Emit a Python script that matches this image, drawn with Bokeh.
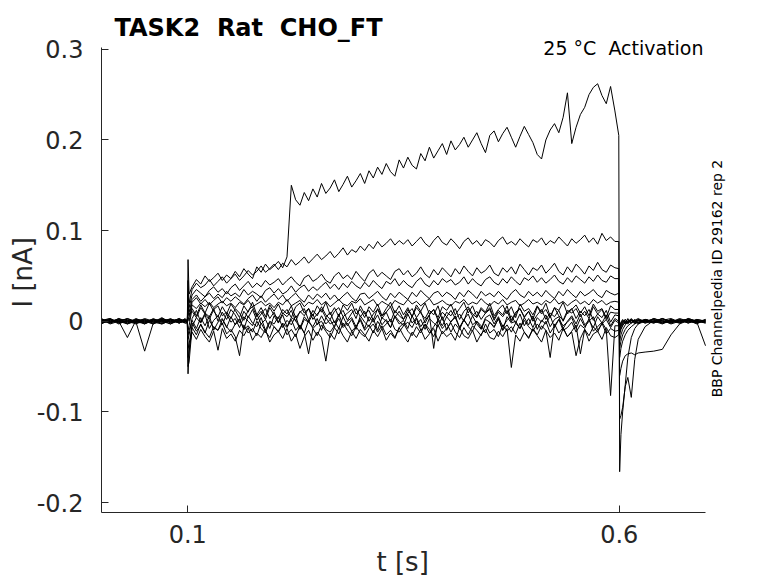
import math
from bokeh.plotting import figure
from bokeh.models import Label, FixedTicker, Range1d, Title
from bokeh.embed import file_html
from bokeh.resources import INLINE

# sample times in ms
t_ms = [0, 10, 20, 30, 40, 50, 60, 70, 80, 90, 97,
        99.5, 100.3, 101.5,
        105, 110, 115, 120, 125, 130, 135, 140, 145, 150,
        155, 160, 165, 170, 175, 180, 185, 190, 195, 200,
        205, 210, 215, 220, 225, 230, 235, 240, 245, 250,
        255, 260, 265, 270, 275, 280, 285, 290, 295, 300,
        305, 310, 315, 320, 325, 330, 335, 340, 345, 350,
        355, 360, 365, 370, 375, 380, 385, 390, 395, 400,
        405, 410, 415, 420, 425, 430, 435, 440, 445, 450,
        455, 460, 465, 470, 475, 480, 485, 490, 495, 500,
        505, 510, 515, 520, 525, 530, 535, 540, 545, 550,
        555, 560, 565, 570, 575, 580, 585, 590, 595,
        599.5, 600.5, 602, 604, 607, 610, 614, 618, 622, 630, 640, 650, 660, 670, 680, 690, 700]

# currents in pA, one list per voltage step
trace_01 = [1, -2, 3, 0, -3, 2, -1, 4, -2, 1, 0,
            1, 68, 30,
            38, 46, 41, 50, 44, 48, 53, 45, 51, 47,
            55, 49, 58, 52, 47, 60, 54, 63, 57, 61,
            66, 59, 71, 150, 134, 128, 142, 133, 146, 137,
            152, 141, 147, 156, 143, 151, 160, 148, 155, 163,
            152, 166, 158, 170, 162, 174, 165, 160, 178, 169,
            181, 172, 168, 185, 177, 192, 180, 188, 196, 184,
            199, 189, 195, 203, 192, 200, 208, 196, 186, 205,
            210, 198, 207, 214, 203, 192, 204, 215, 206, 197,
            184, 179, 200, 211, 218, 208, 225, 252, 196, 214,
            228, 236, 250, 258, 262, 249, 240, 259, 232,
            205, -166, -125, -100, -70, -40, -18, -8, -3, 2, -1, 3, 0, -2, 1, -1, 2]
trace_02 = [-2, 1, -1, 3, 0, -3, 2, -1, 3, -2, 1,
            0, 45, 20,
            35, 42, 37, 40, 46, 39, 44, 49, 42, 47,
            52, 45, 50, 56, 51, 55, 61, 54, 58, 63,
            57, 64, 60, 68, 62, 66, 71, 64, 69, 74,
            68, 72, 77, 70, 75, 81, 73, 79, 76, 83,
            78, 85, 80, 88, 82, 86, 91, 84, 89, 85,
            90, 83, 88, 93, 86, 82, 89, 94, 87, 84,
            91, 86, 80, 88, 92, 85, 89, 83, 90, 87,
            82, 89, 93, 85, 88, 84, 91, 86, 82, 90,
            87, 92, 84, 89, 86, 93, 88, 83, 91, 86,
            90, 95, 87, 92, 85, 97, 89, 93, 88,
            88, -108, -104, -95, -72, -62, -84, -42, -20, -6, 1, -2, 2, -1, 3, 0, -2]
trace_03 = [2, -1, 0, -3, 2, 1, -2, 3, 0, -1, 2,
            -1, 30, 15,
            29, 35, 31, 27, 34, 38, 32, 36, 30, 37,
            41, 34, 39, 44, 37, 42, 38, 45, 40, 43,
            47, 40, 45, 49, 43, 39, 48, 51, 44, 47,
            52, 45, 42, 50, 54, 47, 51, 46, 55, 49,
            44, 53, 57, 49, 54, 50, 46, 55, 58, 51,
            56, 49, 53, 60, 52, 48, 57, 51, 59, 54,
            49, 58, 52, 61, 55, 50, 59, 53, 56, 62,
            53, 50, 59, 54, 60, 52, 63, 57, 51, 59,
            56, 62, 53, 58, 64, 55, 51, 60, 54, 63,
            58, 52, 61, 56, 65, 57, 54, 62, 59,
            58, -60, -52, -44, -38, -36, -35, -37, -35, -34, -33, -31, -15, -3, 1, -2, 1]
trace_04 = [0, 3, -2, 1, -1, 3, 0, -2, 2, 1, -1,
            2, 20, 10,
            24, 29, 22, 27, 31, 25, 30, 26, 33, 28,
            31, 27, 35, 29, 33, 30, 26, 34, 37, 31,
            36, 30, 33, 39, 32, 37, 40, 33, 38, 34,
            39, 43, 36, 41, 35, 42, 37, 44, 39, 36,
            43, 38, 45, 40, 36, 44, 41, 47, 39, 45,
            40, 37, 44, 48, 41, 38, 45, 40, 47, 43,
            46, 40, 43, 49, 41, 47, 42, 39, 46, 49,
            43, 40, 47, 42, 49, 44, 40, 48, 45, 50,
            43, 48, 42, 46, 51, 44, 41, 48, 43, 50,
            46, 42, 49, 44, 51, 45, 43, 50, 47,
            47, -40, -30, -22, -15, -10, -6, -3, -1, 1, -2, 2, -1, 3, 0, -1, 1]
trace_05 = [-1, 0, 2, -2, 3, -1, 1, 0, -3, 2, 0,
            0, 10, 5,
            21, 26, 19, 24, 18, 23, 27, 20, 26, 22,
            27, 23, 19, 25, 29, 22, 28, 21, 26, 30,
            24, 29, 22, 27, 31, 25, 21, 29, 24, 30,
            26, 31, 24, 29, 23, 28, 32, 26, 22, 30,
            31, 25, 29, 33, 27, 23, 31, 26, 32, 28,
            24, 32, 27, 34, 29, 25, 31, 33, 27, 32,
            29, 24, 32, 27, 34, 30, 25, 33, 28, 31,
            27, 33, 28, 24, 31, 35, 29, 26, 33, 28,
            32, 27, 34, 29, 25, 33, 28, 35, 30, 26,
            33, 28, 31, 35, 29, 26, 34, 31, 29,
            31, -30, -22, -15, -9, -5, -2, 1, -2, 2, 0, -3, 1, 0, 2, -1, 0]
trace_06 = [3, -2, 1, 2, -1, 0, -3, 1, 2, -2, 1,
            -2, 5, 0,
            18, 14, 20, 16, 21, 15, 19, 22, 17, 20,
            15, 21, 18, 23, 16, 19, 22, 17, 20, 15,
            21, 18, 24, 17, 20, 23, 16, 21, 19, 24,
            18, 22, 16, 20, 24, 19, 17, 22, 20, 25,
            18, 21, 24, 17, 22, 19, 16, 23, 20, 18,
            24, 19, 22, 17, 21, 25, 18, 20, 23, 19,
            17, 22, 20, 24, 18, 21, 19, 25, 20, 17,
            22, 19, 24, 18, 21, 23, 17, 20, 24, 19,
            21, 18, 23, 20, 25, 19, 22, 17, 21, 24,
            19, 22, 18, 24, 20, 23, 18, 21, 22,
            21, -22, -15, -9, -4, -1, 2, -1, 1, -2, 3, 0, -1, 2, -2, 1, -1]
trace_07 = [-3, 2, -1, 0, 1, -2, 3, -1, 0, 2, -1,
            1, -10, -5,
            14, 6, 18, 9, 20, 11, 5, 16, 8, 19,
            12, 4, 17, 10, 21, 7, 15, 5, 18, 11,
            19, 8, 13, 4, 16, 20, 9, 14, 6, 17,
            10, 21, 7, 15, 5, 18, 12, 20, 8, 13,
            4, 16, 10, 19, 6, 14, 21, 9, 17, 7,
            15, 5, 18, 11, 20, 8, 13, 4, 16, 12,
            19, 7, 14, 21, 9, 17, 5, 15, 10, 20,
            6, 13, 18, 8, 16, 4, 19, 11, 14, 7,
            17, 10, 20, 5, 15, 12, 21, 8, 13, 18,
            9, 16, 6, 19, 11, 14, 4, 17, 13,
            13, -15, -9, -5, -1, 2, -2, 1, 3, -1, 2, -2, 0, 1, -1, 2, 0]
trace_08 = [1, -1, 2, -3, 0, 2, -1, -3, 1, 0, 2,
            0, -20, -15,
            3, 12, -1, 9, 5, 14, 0, 10, 2, 13,
            7, -2, 11, 4, 13, 1, 8, 14, 3, 10,
            -1, 9, 5, 12, 0, 11, 6, 14, 2, 8,
            13, 4, 10, -2, 7, 12, 1, 9, 14, 5,
            11, 0, 8, 13, 3, 10, -1, 12, 6, 2,
            9, 14, 4, 11, -2, 7, 13, 1, 10, 5,
            12, 3, 8, 0, 14, 6, 11, 2, 9, 13,
            1, 10, 5, 12, -1, 8, 14, 4, 11, 0,
            7, 13, 2, 9, 5, 12, 0, 10, 14, 3,
            11, 6, 13, 1, 8, 4, 12, -1, 7,
            6, -10, -6, -3, 0, -2, 3, -1, 2, 0, -2, 1, 3, -1, 0, -2, 1]
trace_09 = [0, 2, -3, 1, -2, 0, 2, 1, -1, 3, -2,
            -1, -30, -25,
            -6, 4, -2, 7, -8, 1, 6, -4, 8, -1,
            3, -7, 5, 0, -5, 8, -3, 2, -8, 6,
            -2, 7, -6, 4, 1, -8, 5, -1, 8, -4,
            6, -3, 2, -7, 8, -5, 0, 4, -6, 3,
            -8, 5, -1, 7, -4, 2, -7, 6, 0, -5,
            8, -2, 4, -6, 1, 7, -30, 3, -5, 5,
            -1, 6, -7, 2, 8, -4, 0, -8, 4, 7,
            -3, 5, -6, 1, 6, -2, 8, -5, 3, -7,
            4, -1, 7, -6, 2, 5, -8, 0, 6, -3,
            8, -4, 1, -7, 5, -2, 7, -5, 3,
            0, -8, -5, -2, 2, -1, 1, -3, 0, 2, -1, 3, -2, 1, 2, 0, -1]
trace_10 = [2, -3, 0, -18, 1, -2, 0, 2, -3, 1, 0,
            2, -40, -35,
            -2, -11, -4, -13, 1, -7, -10, 2, -6, -12,
            -3, 3, -9, -5, -12, 0, -8, -13, -1, -6,
            -11, -2, -7, 2, -10, -4, -13, 1, -8, -3,
            0, -9, -12, -5, 3, -7, -2, -11, -6, 1,
            -10, -4, -13, 0, -8, -3, 2, -9, -12, -5,
            -1, -7, 3, -10, -4, -13, -6, 1, -8, -2,
            -12, -3, -9, 2, -6, -11, 0, -5, -13, -1,
            -7, 3, -10, -4, -12, -2, -8, 1, -6, -11,
            -3, -9, 0, -13, -5, 2, -10, -7, -1, -12,
            -4, -8, 3, -11, -6, -1, -9, -82, -5,
            -5, -6, -3, 0, -2, 3, -1, 2, -2, 1, 0, -2, 2, -1, 1, -3, 2]
trace_11 = [-2, 0, 1, -1, 2, -3, 1, 0, 2, -1, 3,
            0, -50, -45,
            -7, -15, -3, -12, -18, -6, -10, -2, -14, -9,
            -17, -38, -4, -13, -8, -16, -2, -11, -18, -6,
            -12, -3, -15, -9, -17, -5, -13, -36, -8, -16,
            -4, -11, -18, -7, -14, -2, -10, -16, -6, -13,
            -17, -8, -3, -12, -5, -15, -10, -18, -7, -2,
            -11, -16, -6, -13, -3, -9, -17, -4, -14, -8,
            -2, -12, -18, -7, -15, -5, -10, -16, -3, -13,
            -9, -17, -4, -11, -6, -14, -2, -12, -18, -8,
            -15, -5, -10, -40, -3, -13, -7, -17, -11, -4,
            -36, -9, -16, -6, -12, -2, -14, -8, -11,
            -10, -5, -2, 1, -3, 0, 2, -2, 1, -1, 3, 0, -2, 2, -1, 1, -2]
trace_12 = [1, 3, -2, 0, -1, -33, -2, 3, -1, 0, -2,
            -2, -58, -30,
            -12, -20, -9, -17, -23, -11, -32, -8, -19, -14,
            -22, -10, -16, -7, -21, -13, -18, -9, -23, -15,
            -11, -19, -8, -22, -14, -30, -17, -10, -21, -12,
            -18, -44, -13, -20, -7, -16, -23, -11, -19, -9,
            -15, -22, -10, -17, -8, -21, -13, -19, -7, -16,
            -23, -12, -18, -9, -20, -14, -8, -22, -11, -17,
            -13, -21, -7, -16, -19, -10, -23, -14, -9, -18,
            -20, -11, -17, -8, -51, -15, -22, -12, -19, -9,
            -16, -23, -10, -18, -13, -21, -8, -17, -12, -38,
            -19, -9, -22, -14, -11, -20, -7, -16, -18,
            -15, -4, -1, 2, -1, -3, 1, 0, -2, 2, -1, 1, -3, 0, 2, -1, -27]
trace_13 = [2, -1, 3, -2, 0, 1, -3, 2, -1, 3, 0,
            1, 15, 8,
            11, 4, 15, 8, 2, 13, 17, 6, 10, 3,
            14, 9, 1, 12, 16, 5, 11, 2, 15, 7,
            3, 13, 8, 17, 4, 10, 14, 1, 12, 6,
            16, 7, 2, 11, 15, 5, 9, 13, 3, 17,
            8, 12, 1, 14, 6, 10, 16, 4, 11, 2,
            13, 5, 15, 9, 3, 12, 7, 17, 1, 10,
            6, 14, 2, 11, 16, 8, 4, 13, 9, 15,
            3, 12, 7, 17, 1, 10, 14, 5, 11, 2,
            16, 8, 13, 4, 15, 6, 1, 12, 9, 14,
            5, 11, 3, 16, 8, 13, 2, 10, 9,
            9, -12, -8, -4, -1, 2, -2, 1, -3, 0, 2, -1, 1, -2, 3, 0, -1]
trace_14 = [-1, 2, 0, 3, -2, -1, 2, -3, 1, -2, 1,
            -1, -15, -10,
            1, -8, 4, -5, 6, -10, -1, 3, -7, 5,
            -4, 2, -9, 6, -2, -6, 4, -10, 0, -3,
            5, -7, 1, -4, 6, -9, 2, -1, -6, 3,
            -10, 4, -3, 0, -8, 5, -5, 2, -9, 6,
            -1, -6, 3, -10, 4, 0, -7, 5, -3, 1,
            -8, 6, -4, 2, -9, 3, -2, -6, 5, -10,
            0, 4, -7, 1, -5, 6, -3, -9, 2, -1,
            -6, 3, -10, 5, -2, 0, -8, 4, -4, 6,
            -9, 1, -3, 6, -7, 2, -5, -1, 4, -8,
            3, -6, 0, 5, -10, -3, 2, -7, 1,
            -2, -7, -4, -1, 2, -2, 1, -1, 2, -2, 0, 3, -1, 1, -2, 2, 0]

traces_pA = [trace_01, trace_02, trace_03, trace_04, trace_05, trace_06, trace_07,
             trace_08, trace_09, trace_10, trace_11, trace_12, trace_13, trace_14]

x_ticks = [0.1, 0.6]
x_tick_labels = ["0.1", "0.6"]
y_ticks = [-0.2, -0.1, 0.0, 0.1, 0.2, 0.3]
y_tick_labels = ["-0.2", "-0.1", "0", "0.1", "0.2", "0.3"]
x_lim = (0.0, 0.7)
y_lim = (-0.211, 0.302)

NB = "\u00a0"  # keeps the double spaces of the original texts
title_text = "TASK2 " + NB + "Rat " + NB + "CHO_FT"
cond_text = "25 °C " + NB + "Activation"
source_text = "BBP Channelpedia ID 29162 rep 2"
x_label = "t [s]"
y_label = "I [nA]"

for tr in traces_pA:
    assert len(tr) == len(t_ms), (len(tr), len(t_ms))

t_s = [v / 1000.0 for v in t_ms]
xs = [t_s for _ in traces_pA]
ys = [[v / 1000.0 for v in tr] for tr in traces_pA]

# layout (pixels): axes box from x=101..705, y=47..512 on a 778x583 canvas;
# the plotting frame is extended to the canvas top/right so texts there are not clipped
W, H = 778, 583
AX_L, AX_R, AX_T, AX_B = 101, 705, 47, 512
px_per_x = (AX_R - AX_L) / (x_lim[1] - x_lim[0])
px_per_y = (AX_B - AX_T) / (y_lim[1] - y_lim[0])
x_end = x_lim[1] + (W - AX_R) / px_per_x
y_end = y_lim[1] + AX_T / px_per_y

FONT = "DejaVu Sans"
AX = "#262626"

p = figure(width=W, height=H, output_backend="svg", toolbar_location=None, title=None,
           x_range=Range1d(x_lim[0], x_end), y_range=Range1d(y_lim[0], y_end),
           min_border_left=AX_L, min_border_right=0, min_border_top=0,
           min_border_bottom=H - AX_B,
           background_fill_color="white", border_fill_color="white")
p.outline_line_color = None
p.grid.visible = False

p.multi_line(xs=xs, ys=ys, line_color="black", line_width=1)

for ax in (p.xaxis[0], p.yaxis[0]):
    ax.axis_line_color = AX
    ax.axis_line_width = 1
    ax.major_tick_line_color = AX
    ax.major_tick_in = 7
    ax.major_tick_out = 0
    ax.minor_tick_line_color = None
    ax.major_label_text_font = FONT
    ax.major_label_text_font_size = "24px"
    ax.major_label_text_color = AX

xa, ya = p.xaxis[0], p.yaxis[0]
xa.bounds = x_lim
ya.bounds = y_lim
xa.ticker = FixedTicker(ticks=x_ticks)
xa.major_label_overrides = dict(zip(x_ticks, x_tick_labels))
xa.major_label_standoff = 12
ya.ticker = FixedTicker(ticks=y_ticks)
ya.major_label_overrides = dict(zip(y_ticks, y_tick_labels))
ya.major_label_standoff = 18

# axis titles as side-panel titles, placed along the axes box
p.add_layout(Title(text=x_label, align="left", offset=275, vertical_align="middle", standoff=0,
                   text_font=FONT, text_font_size="26px", text_font_style="normal",
                   text_color=AX), "below")
p.add_layout(Title(text=y_label, align="left", offset=205, vertical_align="bottom", standoff=-9,
                   text_font=FONT, text_font_size="26px", text_font_style="normal",
                   text_color=AX), "left")

def add_label(text, x, y, size, align="center", baseline="middle", angle=0.0, bold=False, color="black"):
    # x, y: screen pixels of the reference canvas
    p.add_layout(Label(x=x - AX_L, y=AX_B - y, x_units="screen", y_units="screen", text=text,
                       text_font=FONT, text_font_size=size, text_align=align,
                       text_baseline=baseline, angle=angle, text_color=color,
                       text_font_style="bold" if bold else "normal"))

add_label(title_text, 114, 27, "24px", align="left", baseline="alphabetic", bold=True)
add_label(cond_text, 703, 47, "19px", align="right", baseline="alphabetic")
add_label(source_text, 716, 278, "14px", angle=math.pi / 2)

open("out.html", "w").write(file_html(p, INLINE))
